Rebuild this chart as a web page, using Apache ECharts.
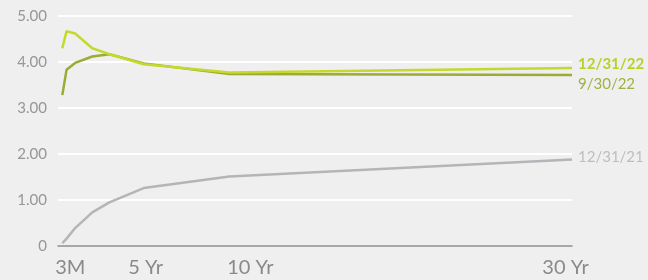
<!DOCTYPE html>
<html lang="en">
  <head>
    <meta charset="UTF-8" />
    <title>Treasury yield curve</title>
    <script src="https://cdn.jsdelivr.net/npm/echarts@6/dist/echarts.min.js"></script>
    <style>
      html, body { margin: 0; padding: 0; background: #efefef; }
      #chart { width: 648px; height: 280px; }
    </style>
  </head>
  <body>
    <div id="chart"></div>
    <script>
      // maturities in years
      const maturities = [0.25, 0.5, 1, 2, 3, 5, 10, 30];
      const yieldsDec21 = [0.06, 0.16, 0.39, 0.73, 0.95, 1.26, 1.51, 1.88];
      const yieldsSep22 = [3.28, 3.83, 3.98, 4.12, 4.17, 3.97, 3.74, 3.72];
      const yieldsDec22 = [4.3, 4.67, 4.62, 4.3, 4.17, 3.95, 3.77, 3.87];
      const tickValues = [0.25, 5, 10, 30];
      const tickLabels = ["3M", "5 Yr", "10 Yr", "30 Yr"];

      const FONT = "Lato";
      const pairs = (ys) => maturities.map((m, i) => [m, ys[i]]);

      // nudges so the axis labels sit where the original puts them
      const labelPad = {
        "3M": [0, 0, 0, 16],
        "5 Yr": [0, 0, 0, 4],
        "10 Yr": [0, 0, 0, 42],
        "30 Yr": [0, 13, 0, 0],
      };
      const rich = {};
      tickLabels.forEach((t, i) => {
        rich["t" + i] = { padding: labelPad[t], fontSize: 20, color: "#8a8a8a", fontFamily: FONT };
      });

      const line = (name, data, color, label) => ({
        name,
        type: "line",
        data: pairs(data),
        symbol: "none",
        lineStyle: { color, width: 2.5 },
        endLabel: Object.assign(
          { show: true, formatter: name, fontFamily: FONT, fontSize: 15, distance: 6 },
          label
        ),
      });

      const chart = echarts.init(document.getElementById("chart"));
      chart.setOption({
        backgroundColor: "#efefef",
        animation: false,
        grid: { left: 58, right: 76, top: 16, bottom: 34 },
        xAxis: {
          type: "value",
          min: 0,
          max: 30,
          axisLine: { lineStyle: { color: "#8a8a8a", width: 1.5 } },
          axisTick: { show: false },
          splitLine: { show: false },
          axisLabel: {
            customValues: tickValues,
            margin: 12,
            formatter: (v) => {
              const i = tickValues.indexOf(v);
              return i < 0 ? "" : "{t" + i + "|" + tickLabels[i] + "}";
            },
            rich,
          },
        },
        yAxis: {
          type: "value",
          min: 0,
          max: 5,
          interval: 1,
          axisLine: { show: false },
          axisTick: { show: false },
          splitLine: { lineStyle: { color: "#ffffff", width: 2 } },
          axisLabel: {
            color: "#969696",
            fontSize: 15,
            fontFamily: FONT,
            margin: 11,
            formatter: (v) => (v === 0 ? "0" : v.toFixed(2)),
          },
        },
        series: [
          line("12/31/21", yieldsDec21, "#b5b5b9", { color: "#bdbdbd", offset: [0, -2] }),
          line("9/30/22", yieldsSep22, "#9cab35", { color: "#a2b041", offset: [0, 9] }),
          line("12/31/22", yieldsDec22, "#c3da2c", { color: "#b8d12a", fontWeight: "bold", offset: [0, -4] }),
        ],
      });
    </script>
  </body>
</html>
